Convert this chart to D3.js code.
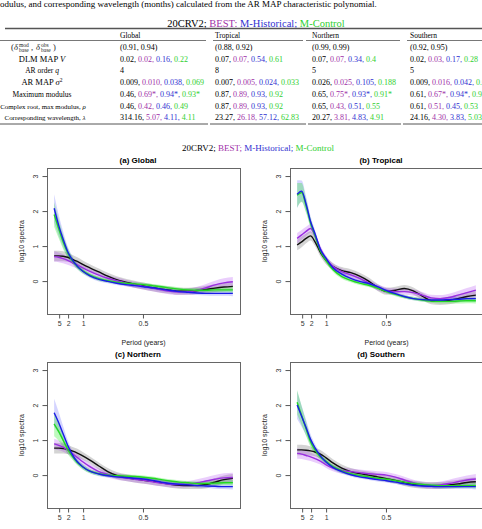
<!DOCTYPE html>
<html>
<head>
<meta charset="utf-8">
<script src="https://cdn.jsdelivr.net/npm/d3@7"></script>
<style>
body { margin: 0; background: #fff; }
svg { display: block; }
</style>
</head>
<body>
<script>
// ----------------------------------------
//  Data
// ----------------------------------------

var caption = "odulus, and corresponding wavelength (months) calculated from the AR MAP characteristic polynomial.";
var seriesNames = ["20CRV2", "BEST", "M-Historical", "M-Control"];
var regions = ["Global", "Tropical", "Northern", "Southern"];

// table rows, one entry per region, values in series order
var deltaRow = [["(0.91, 0.94)"], ["(0.88, 0.92)"], ["(0.99, 0.99)"], ["(0.92, 0.95)"]];
var dlmRow = [["0.02", "0.02", "0.16", "0.22"], ["0.07", "0.07", "0.54", "0.61"], ["0.07", "0.07", "0.34", "0.4"], ["0.02", "0.03", "0.17", "0.28"]];
var orderRow = [["4"], ["8"], ["5"], ["5"]];
var sigmaRow = [["0.009", "0.010", "0.038", "0.069"], ["0.007", "0.005", "0.024", "0.033"], ["0.026", "0.025", "0.105", "0.188"], ["0.009", "0.016", "0.042", "0.061"]];
var modulusRow = [["0.46", "0.69*", "0.94*", "0.93*"], ["0.87", "0.89", "0.93", "0.92"], ["0.65", "0.75*", "0.93*", "0.91*"], ["0.61", "0.67*", "0.94*", "0.95*"]];
var rootRow = [["0.46", "0.42", "0.46", "0.49"], ["0.87", "0.89", "0.93", "0.92"], ["0.65", "0.43", "0.51", "0.55"], ["0.61", "0.51", "0.45", "0.53"]];
var waveRow = [["314.16", "5.07", "4.11", "4.11"], ["23.27", "26.18", "57.12", "62.83"], ["20.27", "3.81", "4.83", "4.91"], ["24.16", "4.30", "3.83", "5.03"]];

// spectra: normalised frequency grid, log10 spectra per series
var freqGrid = [0, 0.025, 0.05, 0.075, 0.1, 0.13, 0.16, 0.2, 0.25, 0.3, 0.35, 0.4, 0.45, 0.5, 0.55, 0.6, 0.65, 0.7, 0.75, 0.8, 0.85, 0.9, 0.95, 1];
var periodTicks = [0.028, 0.078, 0.162, 0.497];
var periodLabels = ["5", "2", "1", "0.5"];
var yTicks = [0, 1, 2, 3];

var globalObs  = [0.72,0.72,0.71,0.68,0.63,0.56,0.48,0.38,0.26,0.14,0.04,-0.03,-0.09,-0.14,-0.19,-0.23,-0.26,-0.29,-0.29,-0.27,-0.24,-0.2,-0.17,-0.15];
var globalBest = [0.7,0.68,0.64,0.59,0.53,0.46,0.38,0.28,0.17,0.08,0.01,-0.05,-0.1,-0.15,-0.2,-0.25,-0.29,-0.31,-0.3,-0.26,-0.19,-0.11,-0.05,-0.02];
var globalHist = [2.08,1.6,1.2,0.85,0.62,0.42,0.28,0.15,0.05,-0.01,-0.06,-0.1,-0.13,-0.16,-0.19,-0.23,-0.27,-0.3,-0.32,-0.34,-0.35,-0.35,-0.35,-0.35];
var globalCtrl = [1.9,1.5,1.12,0.82,0.6,0.42,0.29,0.17,0.07,0.01,-0.03,-0.06,-0.08,-0.1,-0.13,-0.16,-0.2,-0.23,-0.25,-0.26,-0.26,-0.25,-0.25,-0.25];

var tropicalObs  = [1.03,1.12,1.22,1.29,1.12,0.82,0.6,0.42,0.3,0.24,0.14,0.0,-0.18,-0.29,-0.26,-0.21,-0.28,-0.43,-0.56,-0.58,-0.55,-0.5,-0.44,-0.4];
var tropicalBest = [1.22,1.32,1.42,1.5,1.3,0.92,0.65,0.42,0.27,0.18,0.08,-0.05,-0.18,-0.27,-0.3,-0.3,-0.33,-0.4,-0.48,-0.5,-0.47,-0.4,-0.33,-0.26];
var tropicalHist = [2.48,2.57,2.2,1.7,1.35,0.9,0.66,0.38,0.2,0.08,-0.01,-0.07,-0.16,-0.27,-0.36,-0.44,-0.5,-0.53,-0.54,-0.54,-0.53,-0.52,-0.5,-0.5];
var tropicalCtrl = [2.45,2.53,2.15,1.66,1.3,0.86,0.6,0.33,0.13,0.02,-0.06,-0.12,-0.2,-0.3,-0.38,-0.45,-0.5,-0.54,-0.57,-0.58,-0.58,-0.57,-0.56,-0.56];

var northernObs  = [0.77,0.77,0.76,0.73,0.69,0.63,0.55,0.43,0.26,0.1,-0.01,-0.07,-0.11,-0.15,-0.18,-0.22,-0.26,-0.29,-0.3,-0.3,-0.27,-0.2,-0.13,-0.09];
var northernBest = [0.89,0.85,0.8,0.72,0.62,0.5,0.38,0.24,0.1,0.02,-0.04,-0.08,-0.12,-0.15,-0.19,-0.23,-0.26,-0.27,-0.26,-0.22,-0.17,-0.12,-0.08,-0.07];
var northernHist = [1.78,1.5,1.18,0.86,0.6,0.38,0.24,0.11,0.03,-0.02,-0.05,-0.07,-0.09,-0.11,-0.15,-0.2,-0.24,-0.26,-0.28,-0.3,-0.31,-0.32,-0.33,-0.33];
var northernCtrl = [1.46,1.25,1.0,0.75,0.55,0.36,0.23,0.11,0.04,0.0,-0.02,-0.03,-0.04,-0.06,-0.09,-0.13,-0.17,-0.2,-0.22,-0.24,-0.24,-0.23,-0.22,-0.22];

var southernObs  = [0.72,0.72,0.71,0.69,0.66,0.6,0.5,0.35,0.2,0.1,0.04,0.0,-0.05,-0.1,-0.15,-0.21,-0.26,-0.29,-0.3,-0.3,-0.28,-0.25,-0.21,-0.19];
var southernBest = [0.62,0.6,0.56,0.52,0.47,0.4,0.3,0.2,0.13,0.1,0.07,0.04,0.02,0.0,-0.06,-0.14,-0.22,-0.27,-0.3,-0.28,-0.24,-0.19,-0.14,-0.11];
var southernHist = [2.0,1.68,1.36,1.02,0.78,0.55,0.38,0.22,0.1,0.01,-0.05,-0.09,-0.13,-0.16,-0.2,-0.25,-0.29,-0.31,-0.32,-0.33,-0.33,-0.33,-0.33,-0.33];
var southernCtrl = [2.08,1.7,1.32,0.95,0.72,0.52,0.4,0.24,0.12,0.04,-0.01,-0.05,-0.09,-0.12,-0.16,-0.2,-0.24,-0.27,-0.29,-0.3,-0.3,-0.3,-0.3,-0.3];

// half width of the credible bands, per series
var obsBand  = [0.15,0.15,0.14,0.13,0.12,0.12,0.11,0.1,0.1,0.1,0.1,0.1,0.1,0.1,0.1,0.1,0.1,0.1,0.1,0.1,0.11,0.11,0.12,0.12];
var bestBand = [0.15,0.14,0.13,0.12,0.11,0.1,0.09,0.09,0.09,0.09,0.09,0.09,0.09,0.09,0.09,0.09,0.09,0.09,0.09,0.1,0.11,0.12,0.13,0.14];
var histBand = [0.4,0.3,0.22,0.15,0.11,0.08,0.07,0.06,0.06,0.05,0.05,0.05,0.05,0.05,0.05,0.05,0.05,0.05,0.05,0.06,0.06,0.07,0.07,0.08];
var ctrlBand = [0.35,0.27,0.2,0.14,0.1,0.08,0.07,0.06,0.06,0.05,0.05,0.05,0.05,0.05,0.05,0.05,0.05,0.05,0.05,0.06,0.06,0.07,0.07,0.08];

// ----------------------------------------
//  Styles
// ----------------------------------------

var textColors = ["#000", "#a030a8", "#3030d0", "#30d030"];
var lineColors = ["#111", "#9a2ee0", "#1a1ae8", "#22d822"];
var bandColors = ["rgba(90,90,90,0.26)", "rgba(160,32,240,0.22)", "rgba(40,40,255,0.2)", "rgba(0,230,0,0.26)"];
var bands = [obsBand, bestBand, histBand, ctrlBand];
var serif = "'Liberation Serif', 'DejaVu Serif', serif";
var sans = "'Liberation Sans', Arial, sans-serif";

var svg = d3.select("body").append("svg")
    .attr("width", 482)
    .attr("height", 529);

// ----------------------------------------
//  Table
// ----------------------------------------

svg.append("text")
    .attr("x", 0).attr("y", 7)
    .attr("font-family", serif).attr("font-size", 9)
    .text(caption);

function coloredTitle(x, y, size, seps) {
  var t = svg.append("text")
      .attr("x", x).attr("y", y)
      .attr("text-anchor", "middle")
      .attr("font-family", serif).attr("font-size", size);
  seriesNames.forEach(function(name, i) {
    t.append("tspan").attr("fill", textColors[i]).text(name + (i < 3 ? seps[i] : ""));
  });
}
coloredTitle(256, 27, 10.5, ["; ", ": ", "; "]);

var colX = [120, 215, 312, 410];
var rowY = [38, 50, 62, 73, 85, 97, 109, 120];

// rules
var ruleColor = "#555";
svg.append("line").attr("x1", 5).attr("x2", 482).attr("y1", 28.5).attr("y2", 28.5)
    .attr("stroke", ruleColor).attr("stroke-width", 1.3);
[[0, 206], [213, 303], [306, 400], [407, 482]].forEach(function(s) {
  svg.append("line").attr("x1", s[0]).attr("x2", s[1]).attr("y1", 40.5).attr("y2", 40.5)
      .attr("stroke", ruleColor).attr("stroke-width", 0.8);
});
[[0, 208], [210, 306], [308, 401], [403, 482]].forEach(function(s) {
  svg.append("line").attr("x1", s[0]).attr("x2", s[1]).attr("y1", 124).attr("y2", 124)
      .attr("stroke", ruleColor).attr("stroke-width", 1);
});

// column headers
regions.forEach(function(r, i) {
  svg.append("text").attr("x", colX[i]).attr("y", rowY[0])
      .attr("font-family", serif).attr("font-size", 7.5)
      .text(r);
});

// row labels
function label(y, parts, size, cx) {
  var t = svg.append("text").attr("x", cx || 42).attr("y", y)
      .attr("text-anchor", "middle")
      .attr("font-family", serif).attr("font-size", size || 7.5);
  parts.forEach(function(p) {
    var s = t.append("tspan").text(p[0]);
    if (p[1]) s.attr("font-style", "italic");
    if (p[2]) s.attr("baseline-shift", "super").attr("font-size", 5.5);
  });
}

// (delta^mod_base, delta^obs_base)
(function() {
  var y = rowY[1];
  var g = svg.append("g").attr("font-family", serif).attr("fill", "#222");
  g.append("text").attr("x", 11).attr("y", y).attr("font-size", 8.5).text("(");
  g.append("text").attr("x", 14).attr("y", y).attr("font-size", 8.5).attr("font-style", "italic").text("\u03b4");
  g.append("text").attr("x", 19).attr("y", y - 3).attr("font-size", 5.5).text("mod");
  g.append("text").attr("x", 19).attr("y", y + 2.2).attr("font-size", 5.5).text("base");
  g.append("text").attr("x", 31).attr("y", y).attr("font-size", 8.5).text(",");
  g.append("text").attr("x", 36).attr("y", y).attr("font-size", 8.5).attr("font-style", "italic").text("\u03b4");
  g.append("text").attr("x", 41).attr("y", y - 3).attr("font-size", 5.5).text("obs");
  g.append("text").attr("x", 41).attr("y", y + 2.2).attr("font-size", 5.5).text("base");
  g.append("text").attr("x", 53).attr("y", y).attr("font-size", 8.5).text(")");
})();
label(rowY[2], [["DLM MAP "], ["V", true]], 8.5);
label(rowY[3], [["AR order "], ["q", true]], 7.5);
label(rowY[4], [["AR MAP "], ["\u03c3", true], ["2", false, true]], 8.5);
label(rowY[5], [["Maximum modulus"]], 7.5);
label(rowY[6], [["Complex root, max modulus, "], ["\u03c1", true]], 6.9, 43);
label(rowY[7], [["Corresponding wavelength, "], ["\u03bb", true]], 6.9, 45);

// row values
[deltaRow, dlmRow, orderRow, sigmaRow, modulusRow, rootRow, waveRow].forEach(function(row, r) {
  row.forEach(function(vals, c) {
    var t = svg.append("text").attr("x", colX[c]).attr("y", rowY[r + 1])
        .attr("font-family", serif).attr("font-size", 8);
    vals.forEach(function(v, k) {
      t.append("tspan").attr("fill", textColors[k]).text(v + (k < vals.length - 1 ? ", " : ""));
    });
  });
});

// ----------------------------------------
//  Spectra panels
// ----------------------------------------

coloredTitle(258, 151, 9, ["; ", "; ", "; "]);

var panels = [
  { title: "(a) Global",   left: 47,  top: 168, bottomRow: false, series: [globalObs, globalBest, globalHist, globalCtrl] },
  { title: "(b) Tropical", left: 290, top: 168, bottomRow: false, series: [tropicalObs, tropicalBest, tropicalHist, tropicalCtrl] },
  { title: "(c) Northern", left: 47,  top: 362, bottomRow: true,  series: [northernObs, northernBest, northernHist, northernCtrl] },
  { title: "(d) Southern", left: 290, top: 362, bottomRow: true,  series: [southernObs, southernBest, southernHist, southernCtrl] }
];
var pw = 193, ph = 146;

panels.forEach(function(p) {
  var g = svg.append("g").attr("transform", "translate(" + p.left + "," + p.top + ")");

  var x = d3.scaleLinear().domain([-0.04, 1.04]).range([0, pw]);
  var y = d3.scaleLinear().domain([-0.94, 3.23]).range([ph, 0]);

  // bands
  p.series.forEach(function(vals, s) {
    var area = d3.area()
        .x(function(d, i) { return x(freqGrid[i]); })
        .y0(function(d, i) { return y(d - bands[s][i]); })
        .y1(function(d, i) { return y(d + bands[s][i]); })
        .curve(d3.curveMonotoneX);
    g.append("path").datum(vals)
        .attr("d", area)
        .attr("fill", bandColors[s]);
  });

  // lines, drawn black, purple, green, blue
  [0, 1, 3, 2].forEach(function(s) {
    var line = d3.line()
        .x(function(d, i) { return x(freqGrid[i]); })
        .y(function(d) { return y(d); })
        .curve(d3.curveMonotoneX);
    g.append("path").datum(p.series[s])
        .attr("d", line)
        .attr("fill", "none")
        .attr("stroke", lineColors[s])
        .attr("stroke-width", 1.4);
  });

  // box
  g.append("rect").attr("x", 0.5).attr("y", 0.5).attr("width", pw).attr("height", ph)
      .attr("fill", "none").attr("stroke", "#666").attr("stroke-width", 1);

  // x axis
  var xa = g.append("g").attr("transform", "translate(0," + (ph + 0.5) + ")")
      .call(d3.axisBottom(x).tickValues(periodTicks)
        .tickFormat(function(d, i) { return periodLabels[i]; })
        .tickSize(4).tickPadding(3));
  xa.select(".domain").remove();
  xa.selectAll("line").attr("stroke", "#555");
  xa.selectAll("text").attr("font-family", sans).attr("font-size", 7).attr("fill", "#333");

  // y axis
  var ya = g.append("g").attr("transform", "translate(0.5,0)")
      .call(d3.axisLeft(y).tickValues(yTicks).tickFormat(d3.format("d")).tickSize(5));
  ya.select(".domain").remove();
  ya.selectAll("line").attr("stroke", "#555");
  ya.selectAll("text")
      .attr("x", null).attr("dy", null)
      .attr("transform", "translate(-9.5,0) rotate(-90)")
      .attr("text-anchor", "middle")
      .attr("font-family", sans).attr("font-size", 7).attr("fill", "#333");

  // titles
  g.append("text").attr("x", 91).attr("y", -5)
      .attr("text-anchor", "middle")
      .attr("font-family", sans).attr("font-size", 8).attr("font-weight", "bold")
      .text(p.title);
  g.append("text")
      .attr("transform", "translate(-23," + (ph / 2) + ") rotate(-90)")
      .attr("text-anchor", "middle")
      .attr("font-family", sans).attr("font-size", 7).attr("fill", "#222")
      .text("log10 spectra");
  // the bottom row's x label falls below the window, as in the reference
  if (!p.bottomRow) {
    g.append("text").attr("x", pw / 2).attr("y", ph + 31)
        .attr("text-anchor", "middle")
        .attr("font-family", sans).attr("font-size", 7).attr("fill", "#222")
        .text("Period (years)");
  }
});

console.log("End of Program");
</script>
</body>
</html>
